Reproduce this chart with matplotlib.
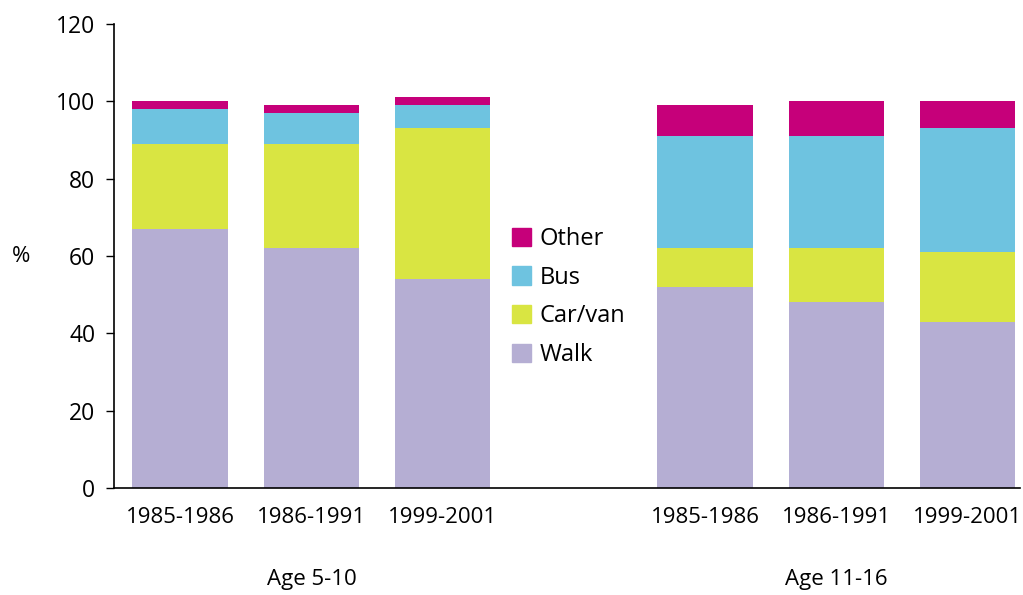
import matplotlib.pyplot as plt
import numpy as np
from matplotlib.patches import Patch

plt.rcParams['font.family'] = ['Open Sans', 'DejaVu Sans']

periods = ['1985-1986', '1986-1991', '1999-2001', '1985-1986', '1986-1991', '1999-2001']
groups = ['Age 5-10', 'Age 11-16']
walk = [67, 62, 54, 52, 48, 43]
car = [22, 27, 39, 10, 14, 18]
bus = [9, 8, 6, 29, 29, 32]
other = [2, 2, 2, 8, 9, 7]

modes = ['Walk', 'Car/van', 'Bus', 'Other']
colors = ['#b5aed3', '#d9e542', '#6ec3e0', '#c6007a']

x = np.array([0, 1, 2, 4, 5, 6])

fig = plt.figure(figsize=(10.23, 5.95), dpi=100)
ax = fig.add_axes([113.5/1023, 1-488/595, (1020-113.5)/1023, (488-24)/595])

bottom = np.zeros(len(x))
for vals, c in zip([walk, car, bus, other], colors):
    ax.bar(x, vals, width=0.728, bottom=bottom, color=c, edgecolor='none')
    bottom += np.array(vals)

ax.set_ylim(0, 120)
ax.set_xlim(-0.508, 6.4)
ax.set_yticks(range(0, 121, 20))
ax.tick_params(axis='y', labelsize=16.5, length=6, width=1, pad=7)
ax.set_xticks(x)
ax.set_xticklabels(periods)
ax.tick_params(axis='x', labelsize=16, length=0, pad=14)
ax.spines['top'].set_visible(False)
ax.spines['right'].set_visible(False)
for s in ['left', 'bottom']:
    ax.spines[s].set_linewidth(1.2)

# group labels under the year labels
for gx, g in zip([1, 5], groups):
    ax.text(gx, -0.198, g, transform=ax.get_xaxis_transform(), ha='center', va='center', fontsize=16)

fig.text(21/1023, 1-257/595, '%', ha='center', va='center', fontsize=16)

handles = [Patch(color=c, label=m) for m, c in zip(modes, colors)][::-1]
ax.legend(handles=handles, loc='center left', bbox_to_anchor=(0.416, 0.4116), frameon=False,
          fontsize=17, handlelength=0.8, handleheight=0.8, handletextpad=0.38, labelspacing=0.62)

fig.savefig('out.png', dpi=100)
